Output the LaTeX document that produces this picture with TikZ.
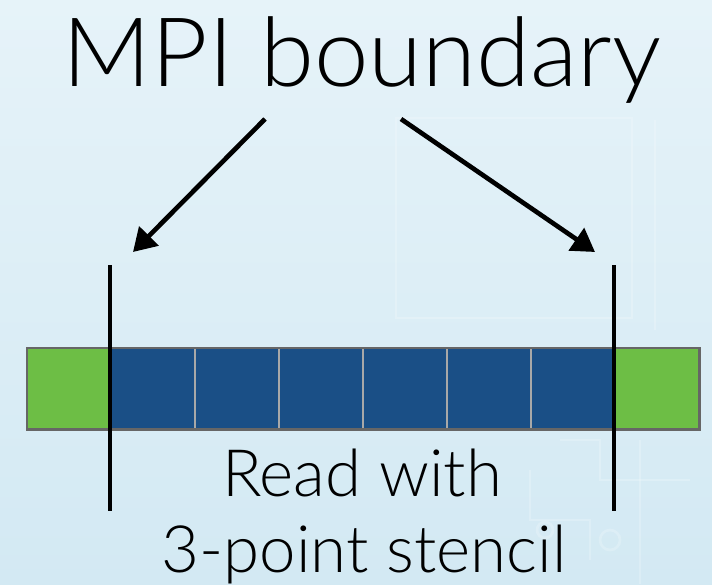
\documentclass[tikz,border=0pt]{standalone}
\usepackage{fontspec}
\setmainfont{Lato Light}
\usetikzlibrary{arrows.meta}

\definecolor{bgtop}{HTML}{E6F3F9}
\definecolor{bgbot}{HTML}{D3E9F3}
\definecolor{halo}{HTML}{6DBE45}
\definecolor{inner}{HTML}{1A4F86}
\definecolor{rim}{HTML}{666666}
\definecolor{divider}{HTML}{A8A8A8}

\tikzset{
  cellbox/.style={draw=none, minimum width=84*0.75pt, minimum height=81*0.75pt,
                  inner sep=0pt, anchor=north west},
  boundary/.style={line width=3pt, black},
  pointer/.style={line width=3.5pt, black, -{Triangle[length=17pt,width=20pt]}},
  title/.style={font=\fontsize{72}{76}\selectfont, inner sep=0pt, xscale=1.02},
  caption/.style={font=\fontsize{49}{56}\selectfont, inner sep=0pt},
  trace/.style={white, opacity=0.2, line width=2pt},
}

\begin{document}
\begin{tikzpicture}[x=0.75pt, y=-0.75pt]
  % page and background
  \useasboundingbox (0,0) rectangle (712,584);
  \shade[top color=bgtop, bottom color=bgbot] (0,0) rectangle (712,584);

  % faint board traces in the background
  \draw[trace] (396,118) rectangle (632,318);
  \draw[trace] (655,120) -- (655,330);
  \draw[trace] (560,440) -- (600,440) -- (600,480) -- (690,480);
  \draw[trace] (530,470) -- (530,520) -- (590,520) -- (590,560);
  \draw[trace] (640,440) -- (640,584);
  \draw[trace] (610,540) circle (10);
  \draw[trace] (545,530) circle (8);

  % title
  \node[title, anchor=base] (head) at (362,87) {MPI boundary};

  % row of cells: halo, six interior cells, halo
  \node[cellbox, fill=halo]  (g0) at (27,348) {};
  \foreach \i in {1,...,6} {
    \node[cellbox, fill=inner] (c\i) at ({27+84*\i},348) {};
  }
  \node[cellbox, fill=halo]  (g7) at (615,348) {};
  \foreach \i in {2,...,6} {
    \draw[divider, line width=1.5pt] (c\i.north west) -- (c\i.south west);
  }
  \draw[rim, line width=2pt] (g0.north west) rectangle (g7.south east);

  % process boundaries
  \coordinate (lt) at (110,265);
  \coordinate (lb) at (110,511);
  \coordinate (rt) at (614,265);
  \coordinate (rb) at (614,511);
  \draw[boundary] (lt) -- (lb);
  \draw[boundary] (rt) -- (rb);

  % arrows from the title
  \coordinate (la) at (265,119);
  \coordinate (ra) at (401,119);
  \coordinate (lh) at (133,252);
  \coordinate (rh) at (595,252);
  \draw[pointer] (la) -- (lh);
  \draw[pointer] (ra) -- (rh);

  % caption
  \node[caption, anchor=base] (cap1) at (362,496) {Read with};
  \node[caption, anchor=base] (cap2) at (364,572) {3-point stencil};
\end{tikzpicture}
\end{document}
